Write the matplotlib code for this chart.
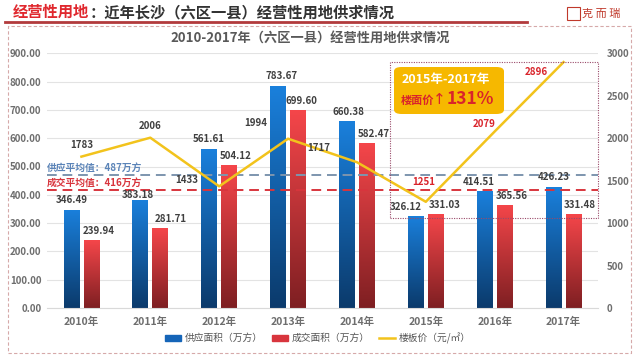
import numpy as np
import matplotlib.pyplot as plt
from matplotlib.colors import LinearSegmentedColormap
from matplotlib.patches import Rectangle, FancyBboxPatch, Patch
from matplotlib.lines import Line2D

plt.rcParams['font.family'] = ['Noto Sans CJK SC', 'DejaVu Sans']

# 数据
anos = ['2010年', '2011年', '2012年', '2013年', '2014年', '2015年', '2016年', '2017年']
oferta = [346.49, 383.18, 561.61, 783.67, 660.38, 326.12, 414.51, 426.23]
venda = [239.94, 281.71, 504.12, 699.60, 582.47, 331.03, 365.56, 331.48]
preco = [1783, 2006, 1433, 1994, 1717, 1251, 2079, 2896]
media_oferta_txt = '供应平均值：487万方'
media_venda_txt = '成交平均值：416万方'
media_oferta_y = 470  # posição
media_venda_y = 416

W, H = 639, 359


def px(x, y):
    return x / W, 1 - y / H


def barras_gradiente(ax, barras, cmap):
    grad = np.linspace(1, 0, 256).reshape(-1, 1)
    for r in barras:
        x0, w, h = r.get_x(), r.get_width(), r.get_height()
        im = ax.imshow(grad, extent=[x0, x0 + w, 0, h], aspect='auto',
                       cmap=cmap, zorder=2, origin='upper')
        im.set_clip_path(r)


def main():
    fig = plt.figure(figsize=(W / 100, H / 100), dpi=100)
    fig.patch.set_facecolor('white')

    l, b = px(47, 308)
    r, t = px(598, 53.3)
    ax = fig.add_axes([l, b, r - l, t - b])
    ax2 = ax.twinx()

    x = np.arange(len(anos))
    largura = 0.23
    desloc = 0.145
    b1 = ax.bar(x - desloc, oferta, largura, color='none', zorder=2)
    b2 = ax.bar(x + desloc, venda, largura, color='none', zorder=2)
    azul = LinearSegmentedColormap.from_list('az', ['#0b3a6b', '#1a80dc'])
    verm = LinearSegmentedColormap.from_list('vm', ['#7e1f22', '#f5464a'])
    barras_gradiente(ax, b1, azul)
    barras_gradiente(ax, b2, verm)

    ax.set_xlim(-0.5, len(anos) - 0.5)
    ax.set_ylim(0, 900)
    ax.set_yticks(np.arange(0, 901, 100))
    ax.set_yticklabels([f'{v:.2f}' for v in np.arange(0, 901, 100)])
    ax.set_xticks(x)
    ax.set_xticklabels(anos)
    ax.grid(axis='y', color='#e3e3e3', lw=0.8, zorder=0)
    ax.set_axisbelow(True)
    for s in ax.spines.values():
        s.set_visible(False)
    for s in ax2.spines.values():
        s.set_visible(False)
    ax.spines['bottom'].set_visible(True)
    ax.spines['bottom'].set_color('#d9d9d9')
    ax.tick_params(axis='y', length=0, labelsize=7, labelcolor='#6e6e6e', pad=4)
    ax.tick_params(axis='x', length=0, labelsize=7.5, labelcolor='#6e6e6e', pad=6)
    for lab in ax.get_yticklabels() + ax.get_xticklabels():
        lab.set_fontweight('bold')

    # médias
    ax.axhline(media_oferta_y, color='#7d95ae', ls=(0, (5, 3)), lw=1.4, zorder=3)
    ax.axhline(media_venda_y, color='#d8353d', ls=(0, (5, 3)), lw=1.4, zorder=3)
    ax.text(-0.5, media_oferta_y + 6, media_oferta_txt, color='#5b84b8', fontsize=7,
            fontweight='bold', va='bottom', ha='left', zorder=4)
    ax.text(-0.5, media_venda_y + 8, media_venda_txt, color='#d8353d', fontsize=7,
            fontweight='bold', va='bottom', ha='left', zorder=4)

    # rótulos das barras
    dx_azul = [0, -2, 0, 3, 2, -10, -6, 0]
    dy_azul = [10, 5, 10, 10, 9, 9, 9, 10]
    dx_verm = [7, 10, 7, 3, 7, 9, 7, 6]
    for i in range(len(anos)):
        ax.annotate(f'{oferta[i]:.2f}', (x[i] - desloc, oferta[i]), xytext=(dx_azul[i], dy_azul[i]),
                    textcoords='offset pixels', ha='center', va='center', fontsize=7,
                    fontweight='bold', color='#3f3f3f', zorder=5)
        ax.annotate(f'{venda[i]:.2f}', (x[i] + desloc, venda[i]), xytext=(dx_verm[i], 9),
                    textcoords='offset pixels', ha='center', va='center', fontsize=7,
                    fontweight='bold', color='#3f3f3f', zorder=5)

    # linha de preço
    ax2.plot(x, preco, color='#f2c31c', lw=1.8, zorder=6)
    ax2.set_ylim(0, 3000)
    ax2.set_yticks(np.arange(0, 3001, 500))
    ax2.tick_params(axis='y', length=0, labelsize=7, labelcolor='#6e6e6e', pad=6)
    for lab in ax2.get_yticklabels():
        lab.set_fontweight('bold')
    off_linha = [(0, 12), (0, 12), (-32, 6), (-32, 16), (-38, 14), (-2, 20), (-11, 7), (-27, -10)]
    cores_linha = ['#3f3f3f'] * 5 + ['#d9242b'] * 3
    for i in range(len(anos)):
        ax2.annotate(str(preco[i]), (x[i], preco[i]), xytext=off_linha[i],
                     textcoords='offset pixels', ha='center', va='center', fontsize=7,
                     fontweight='bold', color=cores_linha[i], zorder=7)

    # caixa pontilhada de destaque
    x0, y0 = px(390, 218)
    x1, y1 = px(598, 62)
    fig.add_artist(Rectangle((x0, y0), x1 - x0, y1 - y0, transform=fig.transFigure,
                             fill=False, ec='#9a4a6a', lw=0.8, ls=(0, (1, 1.2))))
    bx0, by0 = px(394, 114)
    bx1, by1 = px(504, 67)
    fig.add_artist(FancyBboxPatch((bx0, by0), bx1 - bx0, by1 - by0, transform=fig.transFigure,
                                  boxstyle='round,pad=0,rounding_size=0.012',
                                  fc='#f6b800', ec='none'))
    fig.text(*px(446, 79), '2015年-2017年', color='white', fontsize=9, fontweight='bold',
             ha='center', va='center')
    fig.text(*px(401, 100), '楼面价', color='#d9242b', fontsize=8, fontweight='bold',
             ha='left', va='center')
    fig.text(*px(439.5, 99), '↑', color='#d9242b', fontsize=11, ha='center', va='center',
             family=['DejaVu Sans'])
    fig.text(*px(446.5, 99), '131%', color='#d9242b', fontsize=12.5, fontweight='bold',
             ha='left', va='center')

    # título do gráfico
    fig.text(*px(310, 39), '2010-2017年（六区一县）经营性用地供求情况', color='#595959',
             fontsize=9.5, fontweight='bold', ha='center', va='center')

    # cabeçalho
    t1 = fig.text(*px(13, 12), '经营性用地', color='#e0282e', fontsize=11, fontweight='bold',
                  ha='left', va='center')
    fig.canvas.draw()
    fig.text(t1.get_window_extent().x1 / fig.bbox.width, px(0, 12)[1],
             '：近年长沙（六区一县）经营性用地供求情况', color='#333333', fontsize=11,
             fontweight='bold', ha='left', va='center')
    fig.add_artist(Line2D([px(5, 0)[0], px(527, 0)[0]], [px(0, 22)[1]] * 2,
                          transform=fig.transFigure, color='#b23a3c', lw=2))
    fig.add_artist(Rectangle(px(567, 20), 13 / W, 13 / H, transform=fig.transFigure,
                             fill=False, ec='#c0392b', lw=0.8))
    fig.text(*px(582, 14), '克 而 瑞', color='#c0392b', fontsize=8, ha='left', va='center')

    # moldura tracejada
    fig.add_artist(Rectangle(px(8, 353), 623 / W, 327 / H, transform=fig.transFigure,
                             fill=False, ec='#d6a9a9', lw=0.8, ls=(0, (3, 2))))

    # legenda
    handles = [Patch(color='#1565b8'), Patch(color='#d8353d'),
               Line2D([], [], color='#f2c31c', lw=1.8)]
    nomes = ['供应面积（万方）', '成交面积（万方）', '楼板价（元/㎡）']
    fig.legend(handles, nomes, loc='center', bbox_to_anchor=px(318, 338), ncol=3,
               frameon=False, fontsize=7, handlelength=1.6, handleheight=0.6,
               columnspacing=1.0, handletextpad=0.4, labelcolor='#555555')

    fig.savefig('out.png', dpi=100)


if __name__ == "__main__":
    main()
